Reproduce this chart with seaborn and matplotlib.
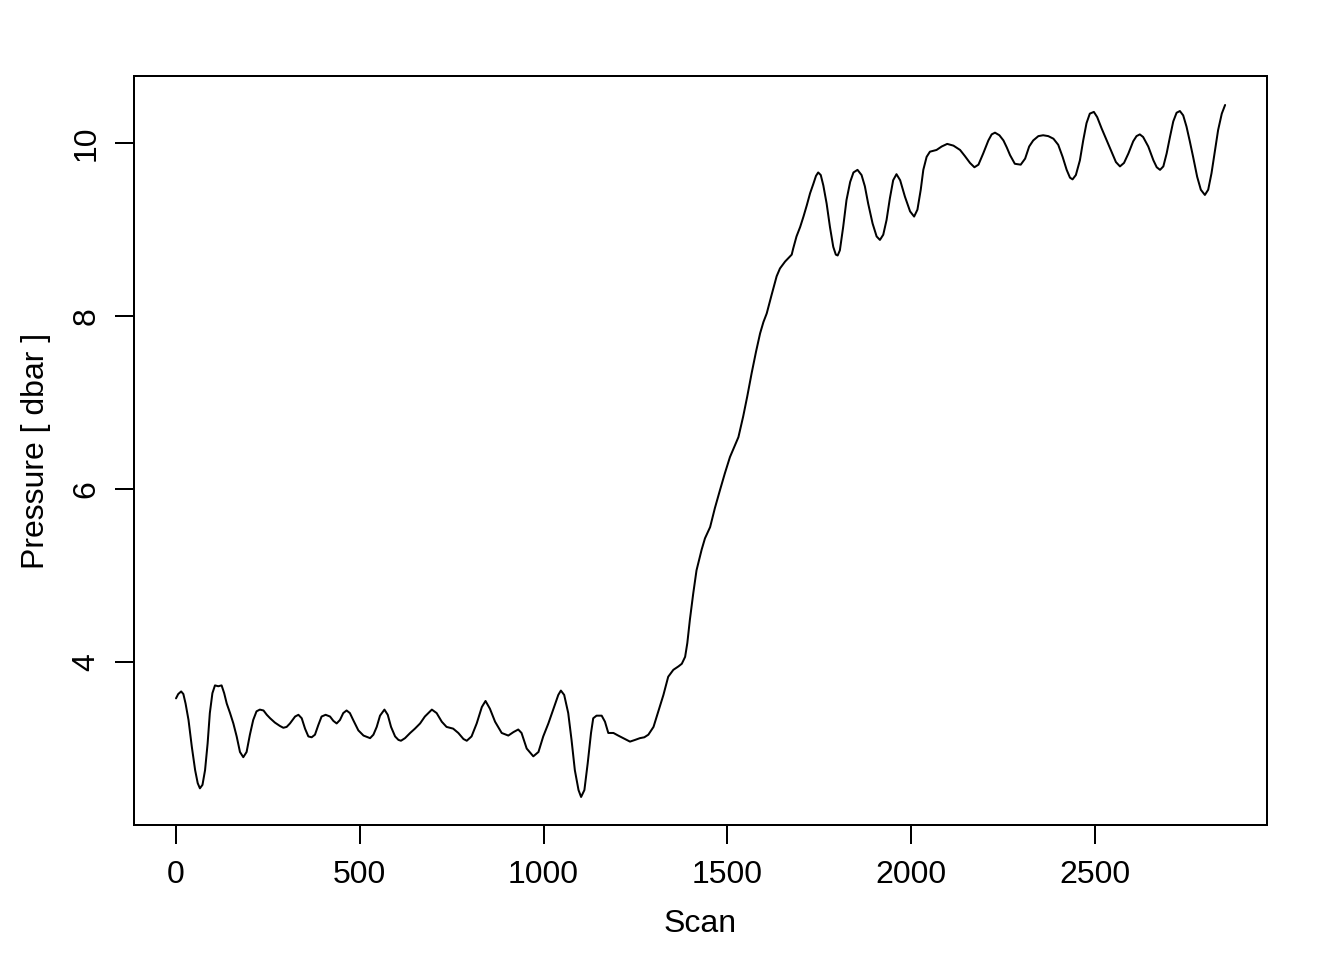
import matplotlib
matplotlib.use("Agg")
import matplotlib.pyplot as plt
import seaborn as sns
import pandas as pd

# Data
scan = [0, 6, 14, 20, 26, 34, 43, 52, 59, 65, 72, 79, 86, 92, 99, 106, 115, 124, 131, 138,
        147, 156, 165, 174, 183, 192, 201, 210, 219, 228, 238, 247, 256, 269, 283, 292,
        301, 310, 324, 333, 342, 351, 360, 369, 378, 387, 396, 407, 419, 428, 437, 446,
        455, 464, 473, 482, 496, 510, 528, 537, 546, 555, 567, 576, 585, 596, 605, 612,
        623, 637, 650, 664, 677, 696, 709, 723, 736, 754, 768, 782, 791, 804, 818, 832,
        842, 854, 868, 886, 904, 918, 931, 940, 954, 972, 986, 999, 1013, 1027, 1040,
        1047, 1056, 1067, 1076, 1085, 1095, 1102, 1111, 1120, 1129, 1135, 1144, 1158,
        1167, 1176, 1190, 1203, 1217, 1235, 1249, 1262, 1274, 1285, 1299, 1312, 1326,
        1339, 1353, 1367, 1376, 1385, 1391, 1398, 1407, 1416, 1424, 1430, 1439, 1453,
        1466, 1480, 1493, 1507, 1521, 1530, 1543, 1554, 1566, 1578, 1589, 1598, 1607,
        1620, 1634, 1643, 1657, 1675, 1679, 1688, 1698, 1707, 1716, 1725, 1734, 1741,
        1747, 1754, 1761, 1770, 1779, 1788, 1795, 1800, 1806, 1815, 1824, 1834, 1843,
        1854, 1865, 1874, 1883, 1895, 1906, 1915, 1924, 1933, 1942, 1951, 1960, 1970,
        1983, 1997, 2008, 2017, 2026, 2033, 2042, 2051, 2060, 2069, 2083, 2098, 2115,
        2133, 2146, 2160, 2172, 2183, 2196, 2210, 2219, 2228, 2240, 2251, 2260, 2269,
        2282, 2298, 2310, 2321, 2332, 2346, 2359, 2373, 2387, 2400, 2412, 2423, 2432,
        2439, 2448, 2459, 2468, 2477, 2486, 2497, 2506, 2518, 2532, 2545, 2557, 2568,
        2579, 2591, 2604, 2613, 2622, 2631, 2645, 2659, 2668, 2677, 2686, 2695, 2704,
        2713, 2722, 2731, 2740, 2749, 2758, 2767, 2778, 2788, 2799, 2808, 2817, 2826,
        2835, 2845, 2854]
pressure = [3.58, 3.63, 3.66, 3.63, 3.52, 3.33, 3.02, 2.75, 2.60, 2.54, 2.58, 2.75, 3.06,
            3.41, 3.64, 3.73, 3.72, 3.73, 3.64, 3.52, 3.41, 3.29, 3.14, 2.96, 2.90, 2.96,
            3.16, 3.33, 3.43, 3.45, 3.44, 3.39, 3.35, 3.30, 3.26, 3.24, 3.25, 3.29, 3.37,
            3.39, 3.35, 3.23, 3.14, 3.13, 3.16, 3.27, 3.37, 3.39, 3.37, 3.32, 3.29, 3.33,
            3.41, 3.44, 3.41, 3.33, 3.21, 3.15, 3.12, 3.16, 3.25, 3.38, 3.45, 3.39, 3.25,
            3.14, 3.10, 3.09, 3.12, 3.18, 3.23, 3.29, 3.37, 3.45, 3.41, 3.31, 3.25, 3.23,
            3.18, 3.11, 3.09, 3.14, 3.29, 3.48, 3.55, 3.46, 3.31, 3.18, 3.15, 3.19, 3.22,
            3.18, 3.00, 2.91, 2.96, 3.14, 3.29, 3.46, 3.62, 3.67, 3.62, 3.41, 3.10, 2.75,
            2.52, 2.44, 2.52, 2.83, 3.18, 3.35, 3.38, 3.38, 3.31, 3.18, 3.18, 3.15, 3.12,
            3.08, 3.10, 3.12, 3.13, 3.16, 3.25, 3.43, 3.62, 3.83, 3.91, 3.95, 3.98, 4.06,
            4.22, 4.49, 4.79, 5.06, 5.20, 5.30, 5.43, 5.56, 5.78, 5.99, 6.18, 6.37, 6.51,
            6.60, 6.84, 7.07, 7.34, 7.59, 7.80, 7.93, 8.03, 8.24, 8.46, 8.55, 8.63, 8.71,
            8.78, 8.92, 9.03, 9.15, 9.28, 9.42, 9.53, 9.62, 9.66, 9.63, 9.51, 9.30, 9.03,
            8.80, 8.71, 8.70, 8.76, 9.03, 9.34, 9.55, 9.66, 9.69, 9.63, 9.50, 9.30, 9.07,
            8.92, 8.88, 8.94, 9.11, 9.36, 9.57, 9.64, 9.57, 9.38, 9.21, 9.15, 9.23, 9.46,
            9.69, 9.84, 9.90, 9.91, 9.92, 9.96, 9.99, 9.97, 9.92, 9.85, 9.77, 9.72, 9.75,
            9.88, 10.03, 10.10, 10.12, 10.09, 10.03, 9.95, 9.86, 9.76, 9.75, 9.82, 9.96,
            10.03, 10.08, 10.09, 10.08, 10.05, 9.98, 9.84, 9.69, 9.60, 9.58, 9.63, 9.80,
            10.03, 10.23, 10.34, 10.36, 10.30, 10.17, 10.03, 9.90, 9.78, 9.73, 9.77, 9.88,
            10.02, 10.08, 10.10, 10.07, 9.96, 9.80, 9.72, 9.69, 9.73, 9.88, 10.07, 10.25,
            10.35, 10.37, 10.32, 10.19, 10.02, 9.84, 9.61, 9.46, 9.40, 9.46, 9.65, 9.90,
            10.15, 10.34, 10.44]
x_ticks = [0, 500, 1000, 1500, 2000, 2500]
y_ticks = [4, 6, 8, 10]

df = pd.DataFrame({"Scan": scan, "Pressure": pressure})

sns.set_theme(style="white")
plt.rcParams["font.family"] = ["Liberation Sans", "DejaVu Sans"]

fig = plt.figure(figsize=(7, 5), dpi=192)
ax = fig.add_axes([134 / 1344, 1 - 825 / 960, (1267 - 134) / 1344, (825 - 76) / 960])

sns.lineplot(data=df, x="Scan", y="Pressure", ax=ax, color="black",
             linewidth=0.75, estimator=None, sort=False)

ax.set_xlim(-114.3, 2968)
ax.set_ylim(2.116, 10.775)
ax.set_xticks(x_ticks)
ax.set_yticks(y_ticks)
ax.set_xticklabels([str(v) for v in x_ticks])
ax.set_yticklabels([str(v) for v in y_ticks], rotation=90, va="center")

for s in ax.spines.values():
    s.set_visible(True)
    s.set_color("black")
    s.set_linewidth(0.75)

ax.tick_params(axis="both", which="major", direction="out", length=7.2, width=0.75,
               color="black", labelsize=12, labelcolor="black",
               bottom=True, left=True, top=False, right=False)
ax.tick_params(axis="x", pad=5.8)
ax.tick_params(axis="y", pad=5.0)

ax.set_xlabel("Scan", fontsize=12, color="black")
ax.set_ylabel("Pressure [ dbar ]", fontsize=12, color="black")
ax.xaxis.set_label_coords(0.5, -99 / 749)
ax.xaxis.label.set_va("center")
ax.yaxis.set_label_coords(-98 / 1133, 0.5)
ax.yaxis.label.set_va("center")

fig.savefig("out.png", dpi=192, facecolor="white")
